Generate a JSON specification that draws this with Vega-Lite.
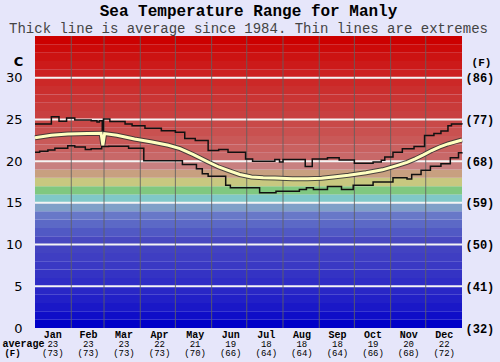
{
  "$schema": "https://vega.github.io/schema/vega-lite/v6.json",
  "width": 427,
  "height": 292,
  "autosize": {"type": "none"},
  "padding": {"left": 35, "top": 36, "right": 38, "bottom": 34},
  "background": "#e6e6fa",
  "title": {
    "text": "Sea Temperature Range for Manly",
    "subtitle": "Thick line is average since 1984. Thin lines are extremes",
    "font": "Liberation Mono",
    "fontSize": 16,
    "fontWeight": "bold",
    "color": "#000000",
    "subtitleFont": "Liberation Mono",
    "subtitleFontSize": 14,
    "subtitleColor": "#444444",
    "subtitlePadding": 3,
    "anchor": "middle",
    "frame": "group",
    "offset": 0
  },
  "config": {"view": {"stroke": null}},
  "datasets": {
    "bands": [
      {"lo": 0, "hi": 1}, {"lo": 1, "hi": 2}, {"lo": 2, "hi": 3}, {"lo": 3, "hi": 4}, {"lo": 4, "hi": 5},
      {"lo": 5, "hi": 6}, {"lo": 6, "hi": 7}, {"lo": 7, "hi": 8}, {"lo": 8, "hi": 9}, {"lo": 9, "hi": 10},
      {"lo": 10, "hi": 11}, {"lo": 11, "hi": 12}, {"lo": 12, "hi": 13}, {"lo": 13, "hi": 14}, {"lo": 14, "hi": 15},
      {"lo": 15, "hi": 16}, {"lo": 16, "hi": 17}, {"lo": 17, "hi": 18}, {"lo": 18, "hi": 19}, {"lo": 19, "hi": 20},
      {"lo": 20, "hi": 21}, {"lo": 21, "hi": 22}, {"lo": 22, "hi": 23}, {"lo": 23, "hi": 24}, {"lo": 24, "hi": 25},
      {"lo": 25, "hi": 26}, {"lo": 26, "hi": 27}, {"lo": 27, "hi": 28}, {"lo": 28, "hi": 29}, {"lo": 29, "hi": 30},
      {"lo": 30, "hi": 31}, {"lo": 31, "hi": 32}, {"lo": 32, "hi": 33}, {"lo": 33, "hi": 34}, {"lo": 34, "hi": 35}
    ],
    "hgrid": [{"t": 5}, {"t": 10}, {"t": 15}, {"t": 20}, {"t": 25}, {"t": 30}],
    "vgrid": [{"d": 31}, {"d": 59}, {"d": 90}, {"d": 120}, {"d": 151}, {"d": 181}, {"d": 212}, {"d": 243}, {"d": 273}, {"d": 304}, {"d": 334}],
    "mx": [
      {"d": 0, "t": 24.45}, {"d": 14, "t": 25.33}, {"d": 20.5, "t": 24.77}, {"d": 27, "t": 25.17},
      {"d": 34, "t": 24.93}, {"d": 48, "t": 24.85}, {"d": 53, "t": 24.7}, {"d": 55, "t": 24.85},
      {"d": 57.5, "t": 23.3}, {"d": 58.5, "t": 25.05}, {"d": 64, "t": 24.75}, {"d": 77, "t": 24.45},
      {"d": 83, "t": 24.25}, {"d": 94, "t": 23.95}, {"d": 108, "t": 23.65}, {"d": 120, "t": 23.45},
      {"d": 128, "t": 22.7}, {"d": 137, "t": 22.46}, {"d": 148, "t": 21.27}, {"d": 157, "t": 21.4},
      {"d": 165, "t": 21.07}, {"d": 180, "t": 20.27}, {"d": 186, "t": 20.0}, {"d": 205, "t": 20.2},
      {"d": 209, "t": 19.9}, {"d": 212, "t": 20.2}, {"d": 231, "t": 19.35}, {"d": 237, "t": 20.27},
      {"d": 250, "t": 20.4}, {"d": 260, "t": 20.15}, {"d": 273, "t": 19.75}, {"d": 289, "t": 19.9},
      {"d": 296, "t": 20.1}, {"d": 299, "t": 20.5}, {"d": 306, "t": 21.07}, {"d": 314, "t": 21.5},
      {"d": 324, "t": 21.75}, {"d": 333, "t": 23.06}, {"d": 341, "t": 23.3}, {"d": 347, "t": 23.6},
      {"d": 353, "t": 24.25}, {"d": 356, "t": 24.45}, {"d": 365, "t": 24.4}
    ],
    "mn": [
      {"d": 0, "t": 21.07}, {"d": 4, "t": 21.2}, {"d": 11, "t": 21.35}, {"d": 17, "t": 21.55},
      {"d": 28, "t": 21.86}, {"d": 34, "t": 21.7}, {"d": 43, "t": 21.4}, {"d": 48, "t": 21.5},
      {"d": 57, "t": 21.75}, {"d": 63, "t": 21.8}, {"d": 80, "t": 21.55}, {"d": 93, "t": 20.05},
      {"d": 126, "t": 19.6}, {"d": 138, "t": 19.1}, {"d": 143, "t": 18.5}, {"d": 148, "t": 18.2},
      {"d": 163, "t": 17.1}, {"d": 167, "t": 16.8}, {"d": 192, "t": 16.2}, {"d": 206, "t": 16.4},
      {"d": 226, "t": 16.6}, {"d": 232, "t": 16.8}, {"d": 238, "t": 16.6}, {"d": 250, "t": 16.95},
      {"d": 262, "t": 16.6}, {"d": 272, "t": 17.1}, {"d": 289, "t": 17.5}, {"d": 306, "t": 18.0},
      {"d": 318, "t": 17.85}, {"d": 322, "t": 18.4}, {"d": 330, "t": 18.9}, {"d": 338, "t": 19.4},
      {"d": 347, "t": 19.7}, {"d": 355, "t": 20.4}, {"d": 362, "t": 21.0}, {"d": 365, "t": 21.07}
    ],
    "av": [
      {"d": 0, "t": 22.8}, {"d": 14, "t": 23.1}, {"d": 28, "t": 23.26}, {"d": 45, "t": 23.3},
      {"d": 56.5, "t": 23.35}, {"d": 58, "t": 21.9}, {"d": 59.5, "t": 23.3}, {"d": 70, "t": 23.1},
      {"d": 85, "t": 22.66}, {"d": 100, "t": 22.3}, {"d": 114, "t": 21.9}, {"d": 124, "t": 21.5},
      {"d": 135, "t": 20.8}, {"d": 148, "t": 19.9}, {"d": 157, "t": 19.3}, {"d": 165, "t": 18.9},
      {"d": 175, "t": 18.4}, {"d": 185, "t": 18.1}, {"d": 195, "t": 18.0}, {"d": 205, "t": 17.97},
      {"d": 220, "t": 17.9}, {"d": 233, "t": 17.9}, {"d": 245, "t": 17.95}, {"d": 255, "t": 18.1},
      {"d": 268, "t": 18.3}, {"d": 283, "t": 18.6}, {"d": 297, "t": 18.96}, {"d": 310, "t": 19.5},
      {"d": 318, "t": 19.85}, {"d": 325, "t": 20.27}, {"d": 332, "t": 20.75}, {"d": 339, "t": 21.27},
      {"d": 346, "t": 21.7}, {"d": 353, "t": 22.06}, {"d": 365, "t": 22.54}
    ],
    "months": [
      {"key": "Jan|23|(73)", "c": 23}, {"key": "Feb|23|(73)", "c": 23}, {"key": "Mar|23|(73)", "c": 23},
      {"key": "Apr|22|(73)", "c": 22}, {"key": "May|21|(70)", "c": 21}, {"key": "Jun|19|(66)", "c": 19},
      {"key": "Jul|18|(64)", "c": 18}, {"key": "Aug|18|(64)", "c": 18}, {"key": "Sep|18|(64)", "c": 18},
      {"key": "Oct|19|(66)", "c": 19}, {"key": "Nov|20|(68)", "c": 20}, {"key": "Dec|22|(72)", "c": 22}
    ]
  },
  "layer": [
    {
      "layer": [
        {
          "data": {"name": "bands"},
          "mark": {"type": "rect"},
          "encoding": {
            "y": {
              "field": "lo", "type": "quantitative",
              "scale": {"domain": [0, 35], "nice": false, "zero": false},
              "axis": {
                "orient": "left", "values": [0, 5, 10, 15, 20, 25, 30],
                "grid": false, "ticks": false, "domain": false,
                "labelFont": "DejaVu Sans", "labelFontSize": 13, "labelColor": "#000000",
                "labelPadding": 13,
                "title": "C", "titleAngle": 0, "titleX": -17, "titleY": 25,
                "titleAlign": "center", "titleBaseline": "middle",
                "titleFont": "DejaVu Sans", "titleFontSize": 13, "titleFontWeight": "bold", "titleColor": "#000000"
              }
            },
            "y2": {"field": "hi"},
            "color": {
              "field": "lo", "type": "quantitative", "legend": null,
              "scale": {
                "domain": [0, 10, 13, 14, 15, 16, 17, 18, 19, 20, 25, 30, 34],
                "range": ["#0000c8", "#4848c0", "#6878c8", "#80a0c8", "#80c8c8", "#80c880", "#c8c880", "#c8a080", "#c88080", "#c86868", "#c84040", "#cc2020", "#cc0000"]
              }
            }
          }
        },
        {
          "data": {"name": "hgrid"},
          "mark": {"type": "rule", "color": "#f4f4f4", "strokeWidth": 2},
          "encoding": {"y": {"field": "t", "type": "quantitative"}}
        },
        {
          "data": {"name": "vgrid"},
          "mark": {"type": "rule", "color": "#606060", "strokeWidth": 1, "opacity": 0.85},
          "encoding": {
            "x": {"field": "d", "type": "quantitative", "scale": {"domain": [0, 365], "nice": false, "zero": false}, "axis": null}
          }
        },
        {
          "data": {"name": "mx"},
          "mark": {"type": "line", "color": "#111111", "strokeWidth": 1.5, "interpolate": "step-after"},
          "encoding": {
            "x": {"field": "d", "type": "quantitative", "axis": null},
            "y": {"field": "t", "type": "quantitative"}
          }
        },
        {
          "data": {"name": "mn"},
          "mark": {"type": "line", "color": "#111111", "strokeWidth": 1.5, "interpolate": "step-after"},
          "encoding": {
            "x": {"field": "d", "type": "quantitative", "axis": null},
            "y": {"field": "t", "type": "quantitative"}
          }
        },
        {
          "data": {"name": "av"},
          "mark": {"type": "line", "color": "#333333", "strokeWidth": 5, "opacity": 0.85},
          "encoding": {
            "x": {"field": "d", "type": "quantitative", "axis": null},
            "y": {"field": "t", "type": "quantitative"}
          }
        },
        {
          "data": {"name": "av"},
          "mark": {"type": "line", "color": "#ffffc0", "strokeWidth": 3},
          "encoding": {
            "x": {"field": "d", "type": "quantitative", "axis": null},
            "y": {"field": "t", "type": "quantitative"}
          }
        }
      ]
    },
    {
      "data": {"name": "months"},
      "mark": {"type": "point", "opacity": 0},
      "encoding": {
        "x": {
          "field": "key", "type": "nominal", "sort": null,
          "scale": {"type": "band", "paddingInner": 0, "paddingOuter": 0},
          "axis": {
            "orient": "bottom", "labelExpr": "split(datum.label, '|')[0]", "labelAngle": 0,
            "labelFont": "Liberation Mono", "labelFontSize": 10, "labelFontWeight": "bold", "labelColor": "#000000",
            "labelPadding": 1, "labelOverlap": false, "labelBound": false, "ticks": false, "domain": false, "grid": false,
            "title": "(F)", "titleX": -23, "titleY": 24, "titleAlign": "center", "titleBaseline": "middle",
            "titleFont": "Liberation Mono", "titleFontSize": 9, "titleFontWeight": "bold", "titleColor": "#000000"
          }
        },
        "y": {
          "field": "c", "type": "quantitative",
          "scale": {"domain": [0, 35], "nice": false, "zero": false},
          "axis": {
            "orient": "right", "values": [0, 5, 10, 15, 20, 25, 30],
            "labelExpr": "'(' + format(datum.value * 9 / 5 + 32, 'd') + ')'",
            "grid": false, "ticks": false, "domain": false,
            "labelFont": "Liberation Mono", "labelFontSize": 12, "labelFontWeight": "bold", "labelColor": "#000000",
            "labelPadding": 3,
            "title": "(F)", "titleAngle": 0, "titleX": 19, "titleY": 26,
            "titleAlign": "center", "titleBaseline": "middle",
            "titleFont": "Liberation Mono", "titleFontSize": 11, "titleFontWeight": "bold", "titleColor": "#000000"
          }
        }
      }
    },
    {
      "data": {"name": "months"},
      "mark": {"type": "point", "opacity": 0},
      "encoding": {
        "x": {
          "field": "key", "type": "nominal", "sort": null,
          "scale": {"type": "band", "paddingInner": 0, "paddingOuter": 0},
          "axis": {
            "orient": "bottom", "labelExpr": "slice(split(datum.label, '|'), 1)", "labelAngle": 0,
            "labelFont": "Liberation Mono", "labelFontSize": 9, "labelColor": "#000000", "labelLineHeight": 9,
            "labelPadding": 11, "labelOverlap": false, "labelBound": false, "ticks": false, "domain": false, "grid": false,
            "title": "average", "titleX": -33, "titleY": 15, "titleAlign": "left", "titleBaseline": "middle",
            "titleFont": "Liberation Mono", "titleFontSize": 10, "titleFontWeight": "bold", "titleColor": "#000000"
          }
        },
        "y": {
          "field": "c", "type": "quantitative",
          "scale": {"domain": [0, 35], "nice": false, "zero": false},
          "axis": null
        }
      }
    }
  ],
  "resolve": {"scale": {"x": "independent", "y": "independent"}}
}
